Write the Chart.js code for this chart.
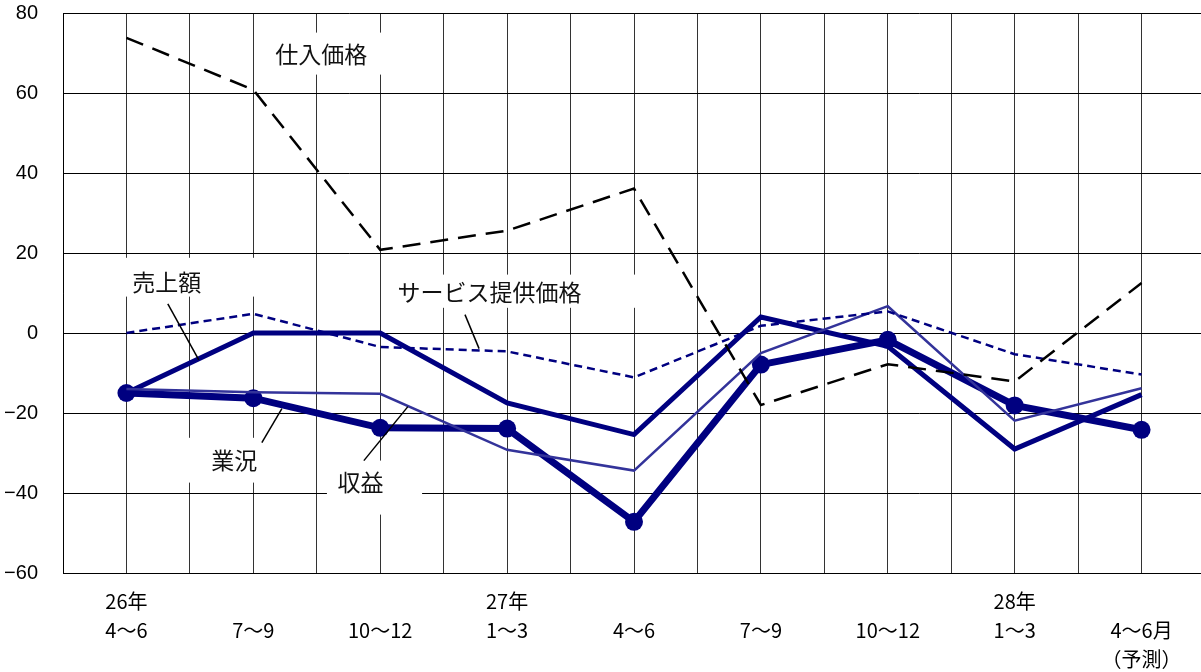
<!DOCTYPE html>
<html lang="ja">
<head>
<meta charset="utf-8">
<title>業況・売上額・収益・価格の推移</title>
<script src="https://cdn.jsdelivr.net/npm/chart.js@4/dist/chart.umd.min.js"></script>
<style>
  html, body { margin: 0; padding: 0; background: #fff; overflow: hidden; }
  #wrap { width: 1214px; height: 672px; }
</style>
</head>
<body>
<div id="wrap"><canvas id="chart" width="1214" height="672"></canvas></div>
<script>
// 期間ラベル（3段：年・期間・注記）
const yearLabels   = ['26年', '', '', '27年', '', '', '', '28年', ''];
const periodLabels = ['4～6', '7～9', '10～12', '1～3', '4～6', '7～9', '10～12', '1～3', '4～6月'];
const noteLabels   = ['', '', '', '', '', '', '', '', '（予測）'];

// 縦軸目盛
const yTicks = [-60, -40, -20, 0, 20, 40, 60, 80];

// DI値（系列ごと）
const gyokyo  = [-15, -16.3, -23.7, -23.9, -47.2, -7.9, -1.7, -18.1, -24.2]; // 業況
const uriage  = [-15, 0, 0, -17.5, -25.4, 4, -3.3, -29, -15.4];              // 売上額
const shueki  = [-14, -14.8, -15.2, -29.2, -34.4, -5, 6.7, -21.9, -13.8];    // 収益
const service = [0, 4.8, -3.5, -4.6, -11.1, 1.8, 5.4, -5.3, -10.4];          // サービス提供価格
const shiire  = [73.8, 60.8, 20.8, 25.6, 36.1, -18, -7.8, -12.1, 12.5];      // 仕入価格

const NAVY = '#000080';

function points(values) {
  return values.map((v, i) => ({ x: i, y: v }));
}

// 系列名の吹き出し（データ座標で配置：box=[x1,y1,x2,y2], at=[x,y], leader=[x1,y1,x2,y2]）
const callouts = [
  { text: '仕入価格', box: [1.035, 75.1, 2.045, 64.6], at: [1.536, 69.6] },
  { text: '売上額', box: [-0.013, 18.8, 1.02, 9.1], at: [0.318, 12.8], leader: [0.326, 7.3, 0.57, -6.7] },
  { text: 'サービス提供価格', box: [2.037, 14.6, 4.048, 6.3], at: [2.861, 10.2], leader: [2.668, 4.6, 2.779, -3.9] },
  { text: '業況', box: [0.469, -26.2, 1.272, -37.4], at: [0.85, -31.9], leader: [1.067, -27.4, 1.225, -18.9] },
  { text: '収益', box: [1.58, -31.9, 2.33, -45.4], at: [1.844, -37.3], leader: [1.871, -31.9, 2.218, -18.4] }
];

const calloutPlugin = {
  id: 'callouts',
  beforeDatasetsDraw(chart) {
    const { ctx, scales: { x, y } } = chart;
    ctx.save();
    ctx.fillStyle = '#ffffff';
    callouts.forEach(c => {
      const x1 = x.getPixelForValue(c.box[0]);
      const y1 = y.getPixelForValue(c.box[1]);
      const x2 = x.getPixelForValue(c.box[2]);
      const y2 = y.getPixelForValue(c.box[3]);
      ctx.fillRect(x1, y1, x2 - x1, y2 - y1);
    });
    ctx.restore();
  },
  afterDatasetsDraw(chart) {
    const { ctx, scales: { x, y } } = chart;
    ctx.save();
    ctx.strokeStyle = '#000';
    ctx.lineWidth = 1.5;
    callouts.forEach(c => {
      if (!c.leader) return;
      ctx.beginPath();
      ctx.moveTo(x.getPixelForValue(c.leader[0]), y.getPixelForValue(c.leader[1]));
      ctx.lineTo(x.getPixelForValue(c.leader[2]), y.getPixelForValue(c.leader[3]));
      ctx.stroke();
    });
    ctx.fillStyle = '#111';
    ctx.font = '23px "Noto Sans CJK JP", sans-serif';
    ctx.textAlign = 'center';
    ctx.textBaseline = 'middle';
    callouts.forEach(c => {
      ctx.fillText(c.text, x.getPixelForValue(c.at[0]), y.getPixelForValue(c.at[1]));
    });
    ctx.restore();
  }
};

// 軸ラベルのはみ出し分の余白は取らない
function noLabelPadding(scale) {
  scale.paddingLeft = 0;
  scale.paddingRight = 0;
  scale.paddingTop = 0;
  scale.paddingBottom = 0;
}

new Chart(document.getElementById('chart'), {
  type: 'line',
  data: {
    datasets: [
      { label: '仕入価格', data: points(shiire), borderColor: '#000', borderWidth: 2.5,
        borderDash: [18, 10], pointRadius: 0, order: 0 },
      { label: 'サービス提供価格', data: points(service), borderColor: NAVY, borderWidth: 2.5,
        borderDash: [8, 5], pointRadius: 0, order: 1 },
      { label: '収益', data: points(shueki), borderColor: '#33339a', borderWidth: 2.5,
        pointRadius: 0, order: 2 },
      { label: '業況', data: points(gyokyo), borderColor: NAVY, borderWidth: 7,
        pointRadius: 9, pointBackgroundColor: NAVY, pointBorderColor: NAVY, pointBorderWidth: 0, order: 3 },
      { label: '売上額', data: points(uriage), borderColor: NAVY, borderWidth: 5,
        pointRadius: 0, order: 4 }
    ]
  },
  options: {
    responsive: false,
    animation: false,
    devicePixelRatio: 1,
    layout: { padding: { top: 13, right: 0, bottom: 0, left: 0 } },
    plugins: { legend: { display: false }, tooltip: { enabled: false } },
    elements: { line: { tension: 0, fill: false } },
    scales: {
      x: {
        type: 'linear',
        min: -0.5,
        max: 8.5,
        afterFit(scale) { scale.height = 99; noLabelPadding(scale); },
        grid: { color: '#333', lineWidth: 1, drawTicks: false },
        border: { display: true, color: '#000', width: 1 },
        ticks: {
          stepSize: 0.5,
          autoSkip: false,
          maxRotation: 0,
          padding: 14,
          color: '#000',
          font: { family: '"Noto Sans CJK JP", sans-serif', size: 20, lineHeight: 1.45 },
          callback(value) {
            const i = Math.round(value);
            if (Math.abs(value - i) > 1e-6 || i < 0 || i >= periodLabels.length) return '';
            const lines = [yearLabels[i], periodLabels[i]];
            if (noteLabels[i]) lines.push(noteLabels[i]);
            return lines;
          }
        }
      },
      y: {
        min: yTicks[0],
        max: yTicks[yTicks.length - 1],
        afterFit(scale) { scale.width = 63; noLabelPadding(scale); },
        afterBuildTicks(scale) { scale.ticks = yTicks.map(v => ({ value: v })); },
        grid: { color: '#000', lineWidth: 1, drawTicks: false },
        border: { display: true, color: '#000', width: 1 },
        ticks: {
          padding: 25,
          color: '#000',
          font: { family: '"Liberation Sans", Arial, sans-serif', size: 20 },
          callback(value) { return String(value).replace('-', '−'); }
        }
      }
    }
  },
  plugins: [calloutPlugin]
});
</script>
</body>
</html>
